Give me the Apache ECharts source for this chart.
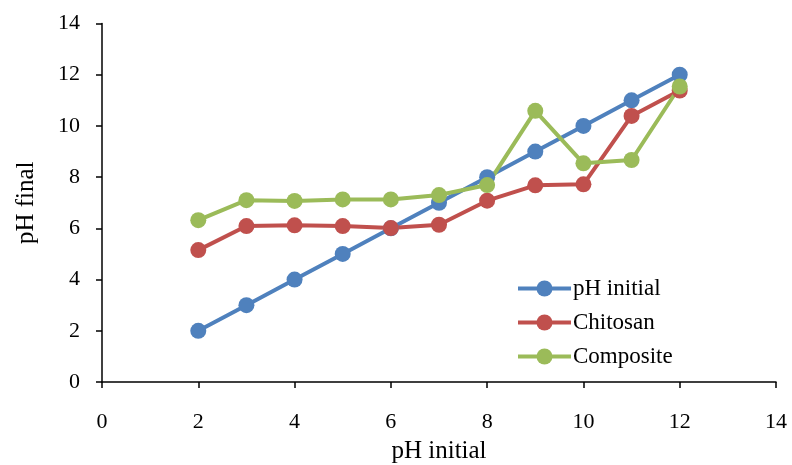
<!DOCTYPE html>
<html><head><meta charset="utf-8">
<script src="https://cdn.jsdelivr.net/npm/echarts@6/dist/echarts.min.js"></script>
<style>html,body{margin:0;padding:0;background:#fff}#c{width:792px;height:465px}</style>
</head><body><div id="c"></div>
<script>
const xValues = [2, 3, 4, 5, 6, 7, 8, 9, 10, 11, 12];
const phInitial = [2, 3, 4, 5, 6, 7, 8, 9, 10, 11, 12];
const chitosan = [5.15, 6.09, 6.12, 6.09, 6.01, 6.14, 7.08, 7.68, 7.72, 10.39, 11.38];
const composite = [6.32, 7.1, 7.07, 7.13, 7.13, 7.3, 7.69, 10.59, 8.54, 8.67, 11.54];
const seriesNames = ['pH initial', 'Chitosan', 'Composite'];
const colors = ['#4F81BD', '#C0504D', '#9BBB59'];

const font = 'Liberation Serif, Times New Roman, serif';
const chart = echarts.init(document.getElementById('c'));
function mk(name, vals, color) {
  return {
    name: name, type: 'line', data: xValues.map((x, i) => [x, vals[i]]),
    symbol: 'circle', symbolSize: 16,
    lineStyle: { color: color, width: 4 },
    itemStyle: { color: color },
    emphasis: { disabled: true }, animation: false
  };
}
chart.setOption({
  animation: false,
  grid: { left: 102, right: 16, top: 23.5, bottom: 83, outerBoundsMode: 'none', containLabel: false },
  legend: {
    orient: 'vertical', left: 516, top: 277, padding: 0,
    itemWidth: 53, itemHeight: 20, itemGap: 11,
    lineStyle: { width: 4 },
    textStyle: { fontFamily: font, fontSize: 23, color: '#000', padding: [0, 0, 0, -3] },
    data: seriesNames
  },
  xAxis: {
    type: 'value', min: 0, max: 14, interval: 2,
    name: 'pH initial', nameLocation: 'middle', nameGap: 57,
    nameTextStyle: { fontFamily: font, fontSize: 25, color: '#000' },
    axisLine: { lineStyle: { color: '#000', width: 1.5 } },
    axisTick: { show: true, inside: false, length: 6, lineStyle: { color: '#000', width: 1.5 } },
    axisLabel: { fontFamily: font, fontSize: 22, color: '#000', margin: 29 },
    splitLine: { show: false }
  },
  yAxis: {
    type: 'value', min: 0, max: 14, interval: 2,
    name: 'pH final', nameLocation: 'middle', nameGap: 63, nameRotate: 90,
    nameTextStyle: { fontFamily: font, fontSize: 25, color: '#000' },
    axisLine: { show: true, lineStyle: { color: '#000', width: 1.5 } },
    axisTick: { show: true, inside: false, length: 6, lineStyle: { color: '#000', width: 1.5 } },
    axisLabel: { fontFamily: font, fontSize: 22, color: '#000', margin: 22 },
    splitLine: { show: false }
  },
  series: [mk(seriesNames[0], phInitial, colors[0]), mk(seriesNames[1], chitosan, colors[1]), mk(seriesNames[2], composite, colors[2])]
});
</script></body></html>
